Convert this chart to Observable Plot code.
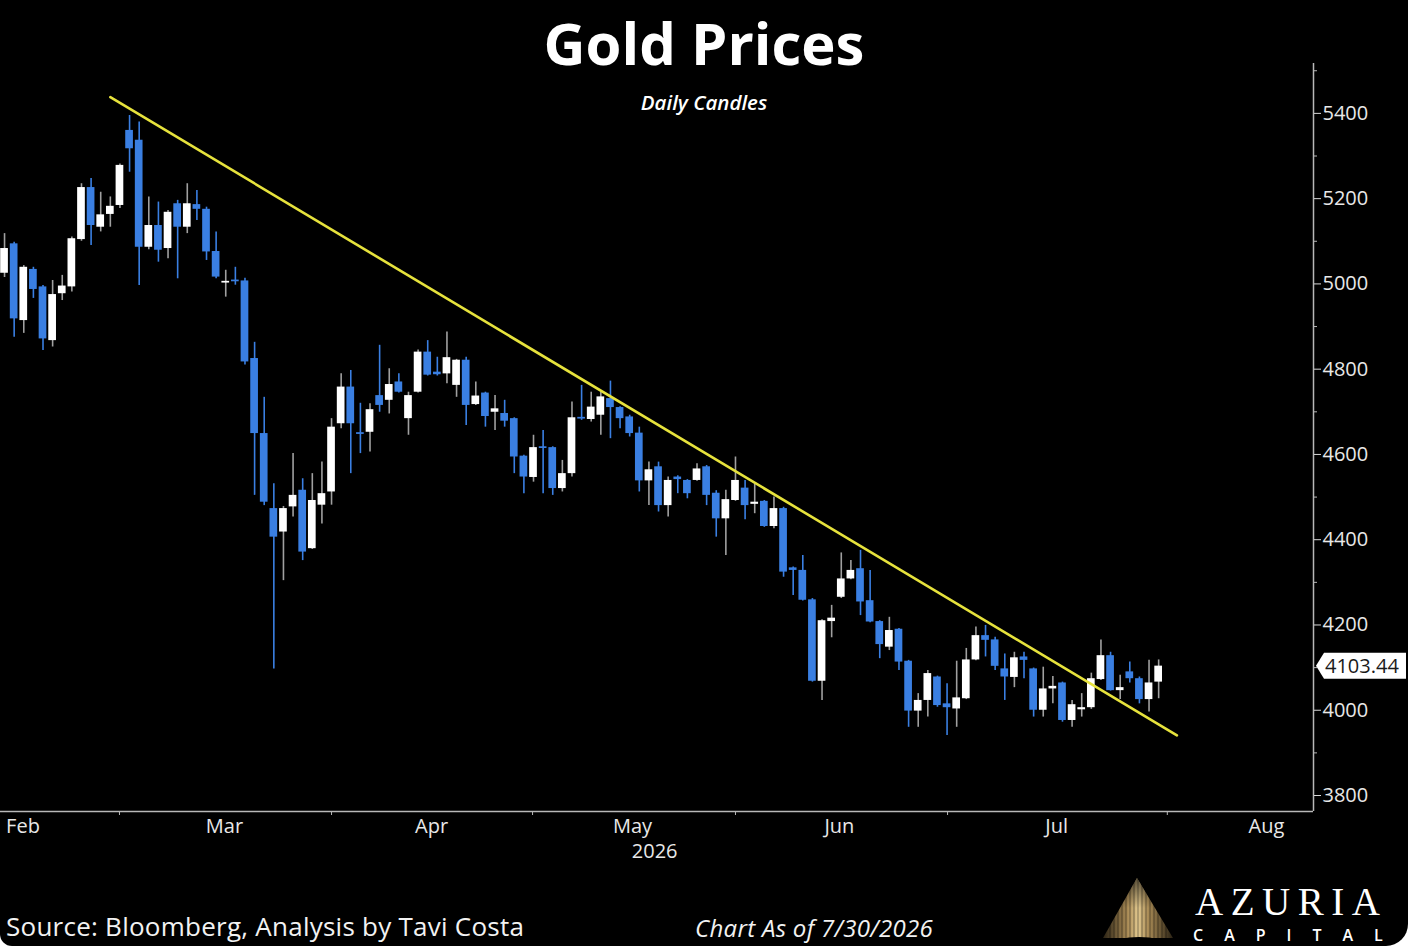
<!DOCTYPE html>
<html>
<head>
<meta charset="utf-8">
<script src="https://cdn.jsdelivr.net/npm/d3@7"></script>
<script src="https://cdn.jsdelivr.net/npm/@observablehq/plot@0.6"></script>
<style>
html, body { margin: 0; padding: 0; background: #fff; }
#wrap { position: relative; width: 1408px; height: 946px; background: #000; overflow: hidden;
  border-bottom-right-radius: 22px; border-bottom-left-radius: 12px; font-family: "Open Sans", sans-serif; color: #fff; }
#chart { position: absolute; left: 0; top: 0; }
.t { position: absolute; white-space: nowrap; }
#title { left: 0; width: 1408px; text-align: center; top: 14px; font-size: 58px; line-height: 58px; font-weight: 700; }
#subtitle { left: 0; width: 1408px; text-align: center; top: 92px; font-size: 20.5px; line-height: 20.5px; font-weight: 600; font-style: italic; }
#source { left: 6px; top: 913px; font-size: 26px; line-height: 26px; letter-spacing: 0.25px; color: #f2f2f2; }
#asof { left: 695px; top: 916px; font-size: 24px; line-height: 24px; letter-spacing: 0.3px; font-style: italic; color: #f2f2f2; }
#azuria { left: 1195px; top: 882px; font-family: "Liberation Serif", "DejaVu Serif", serif; font-size: 39px; line-height: 39px; letter-spacing: 7.5px; color: #fff; }
#capital { left: 1193px; top: 927px; font-size: 16px; line-height: 16px; font-weight: 600; letter-spacing: 21px; color: #fff; }
#fan { position: absolute; left: 1100px; top: 874px; }
</style>
</head>
<body>
<div id="wrap">
  <div id="chart"></div>
  <div class="t" id="title">Gold Prices</div>
  <div class="t" id="subtitle">Daily Candles</div>
  <div class="t" id="source">Source: Bloomberg, Analysis by Tavi Costa</div>
  <div class="t" id="asof">Chart As of 7/30/2026</div>
  <svg id="fan" width="80" height="72" viewBox="0 0 80 72">
    <defs>
      <linearGradient id="gold" x1="0" x2="1" y1="0" y2="0">
        <stop offset="0" stop-color="#2a2214"/>
        <stop offset="0.35" stop-color="#a88a55"/>
        <stop offset="0.5" stop-color="#e2c98f"/>
        <stop offset="0.65" stop-color="#a88a55"/>
        <stop offset="1" stop-color="#2a2214"/>
      </linearGradient>
      <linearGradient id="fade" x1="0" x2="0" y1="0" y2="1">
        <stop offset="0" stop-color="#000" stop-opacity="0.6"/>
        <stop offset="0.5" stop-color="#000" stop-opacity="0"/>
      </linearGradient>
    </defs>
    <polygon points="37,4 3,64 73,64" fill="url(#gold)"/>
    <polygon points="37,4 3,64 73,64" fill="url(#fade)"/>
    <g stroke="#000" stroke-width="0.8" stroke-opacity="0.55">
      <line x1="10" y1="0" x2="10" y2="72"/><line x1="14" y1="0" x2="14" y2="72"/>
      <line x1="18" y1="0" x2="18" y2="72"/><line x1="22" y1="0" x2="22" y2="72"/>
      <line x1="26" y1="0" x2="26" y2="72"/><line x1="30" y1="0" x2="30" y2="72"/>
      <line x1="34" y1="0" x2="34" y2="72"/><line x1="38" y1="0" x2="38" y2="72"/>
      <line x1="42" y1="0" x2="42" y2="72"/><line x1="46" y1="0" x2="46" y2="72"/>
      <line x1="50" y1="0" x2="50" y2="72"/><line x1="54" y1="0" x2="54" y2="72"/>
      <line x1="58" y1="0" x2="58" y2="72"/><line x1="62" y1="0" x2="62" y2="72"/>
      <line x1="66" y1="0" x2="66" y2="72"/>
    </g>
    <path d="M0,72 Q38,54 80,72 Z" fill="#000"/>
  </svg>
  <div class="t" id="azuria">AZURIA</div>
  <div class="t" id="capital">CAPITAL</div>
</div>
<script>
// ---- Data (daily candles, trading-day index) ----
const opens = [5025,5094,4914,5034,4993,4867,4977,4993,5104,5226,5133,5163,5184,5360,5337,5086,5137,5083,5188,5133,
  5186,5175,5076,5002,5009,5007,4825,4649,4473,4418,4477,4516,4379,4481,4512,4672,4758,4651,4652,4738,
  4727,4770,4684,4746,4840,4793,4789,4762,4821,4717,4744,4699,4696,4684,4596,4546,4618,4616,4520,4555,
  4687,4682,4692,4731,4710,4688,4650,4538,4571,4480,4547,4539,4539,4571,4509,4449,4492,4521,4483,4490,
  4431,4473,4334,4328,4259,4068,4208,4265,4308,4332,4257,4208,4148,4190,4115,3998,4023,4078,4015,4003,
  4027,4118,4175,4165,4097,4077,4125,4097,4000,4050,4064,3976,4001,4006,4072,4128,4046,4090,4074,4025,4066];
const highs = [5118,5098,5043,5039,4996,5008,5020,5110,5235,5247,5215,5204,5281,5395,5380,5204,5192,5172,5196,5235,
  5219,5180,5122,5032,5039,5013,4863,4734,4531,4478,4602,4543,4555,4582,4684,4789,4797,4720,4719,4856,
  4801,4789,4746,4845,4867,4828,4887,4823,4828,4770,4746,4738,4727,4686,4598,4645,4656,4618,4586,4723,
  4762,4746,4750,4772,4712,4692,4664,4582,4582,4547,4550,4541,4578,4574,4515,4516,4594,4539,4531,4492,
  4500,4476,4336,4363,4262,4212,4246,4369,4351,4375,4328,4210,4218,4192,4117,4039,4093,4080,4062,4115,
  4145,4195,4199,4171,4132,4136,4136,4099,4101,4079,4066,4023,4039,4087,4165,4136,4082,4113,4078,4117,4118];
const lows = [5015,4875,4884,4966,4844,4852,4961,4981,5100,5090,5122,5133,5177,5262,4996,5080,5051,5059,5012,5118,
  5149,5055,5012,4969,4997,4810,4504,4480,4097,4304,4453,4351,4377,4437,4481,4660,4555,4602,4606,4699,
  4695,4744,4645,4744,4784,4784,4766,4734,4668,4715,4664,4656,4664,4555,4508,4535,4508,4504,4512,4547,
  4680,4676,4645,4637,4660,4641,4512,4480,4465,4453,4508,4496,4537,4480,4406,4363,4490,4447,4461,4429,
  4426,4312,4269,4256,4066,4023,4170,4262,4306,4222,4205,4121,4140,4093,3960,3960,3984,4007,3941,3960,
  4025,4116,4125,4093,4023,4053,4074,3984,3984,4015,3972,3960,3984,4002,4070,4045,4025,4064,4015,3996,4027];
const closes = [5083,4918,5039,4987,4871,4975,4995,5106,5226,5137,5162,5182,5278,5317,5086,5137,5079,5168,5133,5188,
  5175,5075,5016,5006,5005,4817,4649,4488,4406,4473,4504,4371,4492,4508,4664,4758,4672,4647,4705,4715,
  4764,4746,4738,4840,4786,4787,4827,4821,4715,4737,4689,4707,4678,4594,4547,4616,4614,4520,4555,4686,
  4683,4711,4735,4710,4684,4649,4538,4564,4480,4539,4541,4508,4566,4504,4449,4494,4539,4480,4488,4431,
  4473,4324,4328,4258,4068,4210,4216,4308,4328,4254,4207,4154,4187,4113,3998,4023,4086,4011,4006,4029,
  4118,4175,4164,4103,4078,4123,4117,4000,4050,4056,3976,4013,4006,4074,4128,4046,4053,4074,4025,4064,4103.44];

// trend line (index, price)
const trendIndex = [11.0, 121.9];
const trendPrice = [5438, 3941];

// axis labels
const monthLabels = ["Feb", "Mar", "Apr", "May", "Jun", "Jul", "Aug"];
const monthLabelPos = [1.92, 22.87, 44.4, 65.3, 86.8, 109.4, 131.2];
const monthBoundaryPos = [11.95, 34.0, 54.9, 76.0, 98.05, 120.9];
const yearLabel = ["2026"];
const yearLabelPos = [67.6];
const priceTicks = [3800, 4000, 4200, 4400, 4600, 4800, 5000, 5200, 5400];
const minorTicks = [3900, 4100, 4300, 4500, 4700, 4900, 5100, 5300, 5500];

const xDomain = [-0.42, 136.1];
const yDomain = [3762.5, 5517];

const BLUE = "#3a7fe2";
const WICK_UP = "#a0a0a0";

const candles = opens.map((o, i) => ({i, o, h: highs[i], l: lows[i], c: closes[i], up: closes[i] >= o}));
const trend = trendIndex.map((x, k) => ({x, y: trendPrice[k]}));

const chart = Plot.plot({
  width: 1408,
  height: 880,
  marginLeft: 0,
  marginRight: 95,
  marginTop: 63,
  marginBottom: 69,
  style: {background: "#000", color: "#e8e8e8", fontFamily: "Open Sans", fontSize: "20px", overflow: "visible"},
  x: {type: "linear", domain: xDomain, axis: null},
  y: {type: "linear", domain: yDomain, axis: null},
  marks: [
    Plot.ruleY([yDomain[0]], {stroke: "#b8b8b8", strokeWidth: 1.5}),
    Plot.ruleX([xDomain[1]], {stroke: "#b8b8b8", strokeWidth: 1.5}),
    Plot.axisX({ticks: monthBoundaryPos, tickSize: 4, tickFormat: () => "", stroke: "#b8b8b8"}),
    Plot.text(monthLabels, {x: (d, i) => monthLabelPos[i], frameAnchor: "bottom", dy: 21, text: d => d, fill: "#e8e8e8", fontSize: 20}),
    Plot.text(yearLabel, {x: (d, i) => yearLabelPos[i], frameAnchor: "bottom", dy: 46, text: d => d, fill: "#e8e8e8", fontSize: 20}),
    Plot.axisY({anchor: "right", ticks: priceTicks, tickFormat: "d", tickSize: 7, tickPadding: 2, fontSize: 20, stroke: "#d8d8d8"}),
    Plot.axisY({anchor: "right", ticks: minorTicks, tickSize: 3, tickFormat: () => "", stroke: "#b8b8b8"}),
    Plot.ruleX(candles, {x: "i", y1: "l", y2: "h", stroke: d => d.up ? WICK_UP : BLUE, strokeWidth: 1.6}),
    Plot.rect(candles, {x1: d => d.i - 0.4, x2: d => d.i + 0.4, y1: "o", y2: "c", fill: d => d.up ? "#ffffff" : BLUE}),
    Plot.line(trend, {x: "x", y: "y", stroke: "#e6e23c", strokeWidth: 2.6})
  ]
});

document.getElementById("chart").appendChild(chart);

// last price callout on the right axis
const ys = chart.scale("y");
const xs = chart.scale("x");
const last = closes[closes.length - 1];
const py = ys.apply(last);
const px = xs.apply(xDomain[1]) + 3;
const svg = d3.select(chart);
const g = svg.append("g");
g.append("path")
  .attr("d", `M${px},${py} L${px + 8},${py - 13} L${px + 90},${py - 13} L${px + 90},${py + 13} L${px + 8},${py + 13} Z`)
  .attr("fill", "#ffffff");
g.append("text")
  .attr("x", px + 9)
  .attr("y", py)
  .attr("dy", "0.36em")
  .attr("text-anchor", "start")
  .attr("fill", "#1a1a1a")
  .attr("font-size", 20)
  .attr("font-family", "Open Sans")
  .text(d3.format(".2f")(last));
</script>
</body>
</html>
